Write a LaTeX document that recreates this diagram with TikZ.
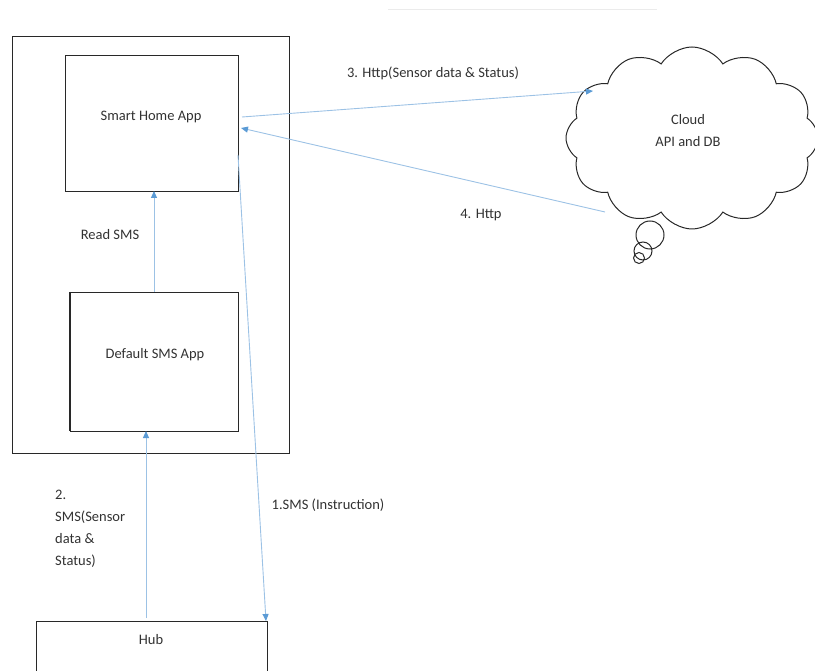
\documentclass[tikz,border=0pt]{standalone}
\usepackage{fontspec}
\setmainfont{Carlito}
\usetikzlibrary{shapes.symbols,arrows.meta}
\definecolor{linkblue}{RGB}{156,194,229}
\definecolor{tipblue}{RGB}{91,155,213}
\definecolor{ink}{RGB}{40,40,40}
\definecolor{txt}{RGB}{50,50,50}
\begin{document}
\begin{tikzpicture}[x=1pt,y=-1pt,
  frame/.style={draw=ink,line width=1pt},
  label/.style={text=txt,font=\fontsize{14.5}{17}\selectfont,inner sep=0pt},
  flow/.style={draw=linkblue,line width=0.9pt,-{Triangle[length=7pt,width=6pt,fill=tipblue,color=tipblue]}}]
\useasboundingbox (0,0) rectangle (815,671);
\clip (0,0) rectangle (815,671);
% faint rule near the top
\draw[black!8,line width=1pt] (388,10) -- (657,10);
% phone frame and app boxes
\draw[frame] (12,37) rectangle (289,453);
\node[frame,minimum width=173pt,minimum height=136pt,inner sep=0pt,anchor=north west] (home) at (65,55) {};
\node[label] at (151,117) {Smart Home App};
\node[frame,minimum width=168pt,minimum height=139pt,inner sep=0pt,anchor=north west] (sms) at (70,292) {};
\node[label] at (155,355) {Default SMS App};
\draw[ink,line width=1.8pt] (70,292) -- (70,431);
% hub
\node[frame,minimum width=231pt,minimum height=60pt,inner sep=0pt,anchor=north west] (hub) at (36,621) {};
\node[label] at (151,640) {Hub};
% cloud with thought bubbles
\node[cloud,draw=ink,line width=1pt,cloud puffs=12,cloud puff arc=115,minimum width=252pt,minimum height=182pt,inner sep=0pt] (cloud) at (692,138) {};
\node[label,align=center] at (688,131) {Cloud\\[5pt]API and DB};
\draw[ink,line width=1pt] (650,235) circle (14);
\draw[ink,line width=1pt] (643,251) circle (9);
\draw[ink,line width=1pt] (639,258) circle (5.5);
% connector end points
\coordinate (homeIn) at (241,128);
\coordinate (homeOut) at (242,117);
\coordinate (cloudIn) at (593,91);
\coordinate (cloudOut) at (605,212);
\coordinate (homeLow) at (238,155);
\coordinate (hubIn) at (266,621);
\coordinate (smsTop) at (154,292);
\coordinate (homeBot) at (154,191);
\coordinate (hubTop) at (146,618);
\coordinate (smsBot) at (146,431);
% connectors
\draw[flow] (homeOut) -- (cloudIn);
\draw[flow] (cloudOut) -- (homeIn);
\draw[flow] (smsTop) -- (homeBot);
\draw[flow] (homeLow) -- (hubIn);
\draw[flow] (hubTop) -- (smsBot);
% connector labels
\node[label] at (433,73) {3. Http(Sensor data \& Status)};
\node[label] at (481,215) {4. Http};
\node[label] at (110,235) {Read SMS};
\node[label] at (328,505) {1.SMS (Instruction)};
\node[label,align=left,anchor=north west] at (55,490) {2.\\[5pt]SMS(Sensor\\[5pt]data \&\\[5pt]Status)};
\end{tikzpicture}
\end{document}
